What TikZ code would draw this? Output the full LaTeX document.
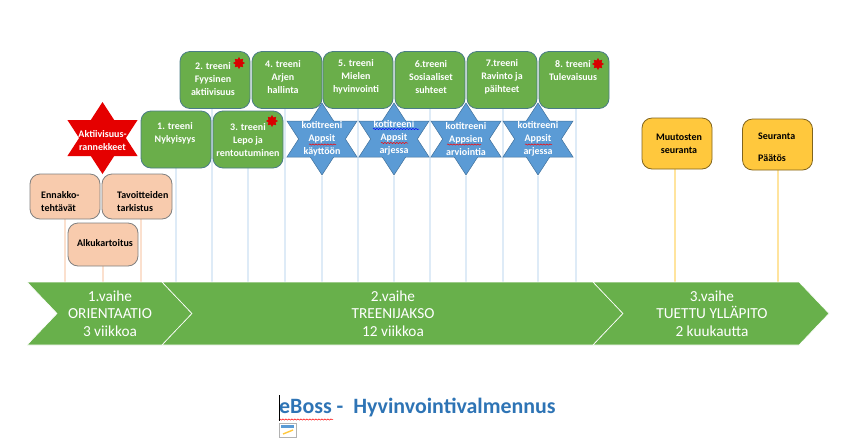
\documentclass[tikz,border=0pt]{standalone}
\usepackage{fontspec}
\setmainfont{Carlito}
\usetikzlibrary{shapes.geometric,backgrounds,decorations.pathmorphing}
\definecolor{phasegreen}{HTML}{68B04B}
\definecolor{boxgreen}{HTML}{6AAE4A}
\definecolor{boxedge}{HTML}{4A7C86}
\definecolor{starblue}{HTML}{5B9BD5}
\definecolor{staredge}{HTML}{41719C}
\definecolor{peach}{HTML}{F8CBAD}
\definecolor{amber}{HTML}{FFC83D}
\definecolor{titleblue}{HTML}{2E74B5}
\begin{document}
\begin{tikzpicture}[
    x=1pt, y=-1pt,
    card/.style={draw=#1, line width=0.8pt, rectangle, rounded corners=10pt, minimum width=70pt, minimum height=57pt, inner sep=0pt},
    treeni box/.style={card=boxedge, fill=boxgreen},
    alku box/.style={card=gray, fill=peach, minimum height=45pt},
    seuranta box/.style={card=black!50!amber, fill=amber, minimum height=51pt},
    hex star/.style={star, star points=6, star point ratio=1.732, minimum size=72pt, inner sep=0pt, transform shape, xscale=1.125, fill=#1},
    burst/.style={star, star points=8, star point ratio=1.6, minimum size=12pt, inner sep=0pt, fill=red!85!black},
    light text/.style={text=white, font=\bfseries\fontsize{10}{13}\selectfont, align=center, inner sep=0pt},
    dark text/.style={text=black, font=\bfseries\fontsize{10}{13}\selectfont, align=left, inner sep=0pt},
    phase/.style={fill=phasegreen, draw=white, line width=0.6pt},
    phase text/.style={text=white, font=\fontsize{15.3}{17.5}\selectfont, align=center, inner sep=0pt},
    foot line/.style={draw=#1, line width=1.2pt},
    squiggle/.style={draw=#1, line width=0.5pt, decorate, decoration={snake, amplitude=0.6pt, segment length=3pt}}
]
\useasboundingbox (0,0) rectangle (856,437);
\coordinate (bar) at (0,282);

% Phases
\path[phase] (27,282) -- (162,282) -- (192,313.5) -- (162,345) -- (27,345) -- (57,313.5) -- cycle;
\path[phase] (162,282) -- (593,282) -- (623,313.5) -- (593,345) -- (162,345) -- (192,313.5) -- cycle;
\path[phase] (593,282) -- (799,282) -- (829,313.5) -- (799,345) -- (593,345) -- (623,313.5) -- cycle;
\node [phase text] (vaihe1) at (110,313.5) {1.vaihe\\ORIENTAATIO\\3 viikkoa};
\node [phase text] (vaihe2) at (393,313.5) {2.vaihe\\TREENIJAKSO\\12 viikkoa};
\node [phase text] (vaihe3) at (712,313.5) {3.vaihe\\TUETTU YLLÄPITO\\2 kuukautta};

% Orientation
\node [alku box] (ennakko) at (65,196.5) {};
\node [alku box] (tavoite) at (137,196.5) {};
\node [alku box, minimum height=43pt] (alkukartoitus) at (103,244.5) {};
\node [hex star=red!90!black] (ranneke) at (102.5,138) {};
\node [dark text, anchor=west] (ennakkotxt) at (41,201.5) {Ennakko-\\tehtävät};
\node [dark text, anchor=west] (tavoitetxt) at (117,201.5) {Tavoitteiden\\tarkistus};
\node [dark text] (alkutxt) at (105,243.5) {Alkukartoitus};
\node [light text] (ranneketxt) at (102.5,141) {Aktiivisuus-\\rannekkeet};

% Sessions
\node [treeni box] (treeni2) at (215,80) {};
\node [treeni box] (treeni4) at (287,80) {};
\node [treeni box] (treeni5) at (358,80) {};
\node [treeni box] (treeni6) at (430,80) {};
\node [treeni box] (treeni7) at (502,80) {};
\node [treeni box] (treeni8) at (574,80) {};
\node [treeni box] (treeni1) at (176,139.5) {};
\node [treeni box] (treeni3) at (248,139.5) {};

\node [light text] (treeni2txt) at (213,79) {2. treeni\\Fyysinen\\aktiivisuus};
\node [light text] (treeni4txt) at (283,77) {4. treeni\\Arjen\\hallinta};
\node [light text] (treeni5txt) at (356,77) {5. treeni\\Mielen\\hyvinvointi};
\node [light text] (treeni6txt) at (431,77) {6.treeni\\Sosiaaliset\\suhteet};
\node [light text] (treeni7txt) at (502,77) {7.treeni\\Ravinto ja\\päihteet};
\node [light text] (treeni8txt) at (573,71) {8. treeni\\Tulevaisuus};
\node [light text] (treeni1txt) at (175,133.5) {1. treeni\\Nykyisyys};
\node [light text] (treeni3txt) at (248,140) {3. treeni\\Lepo ja\\rentoutuminen};

\node [burst] (burst2) at (239,63) {};
\node [burst] (burst3) at (272,121) {};
\node [burst] (burst8) at (598,64) {};

% Home training
\node [hex star=starblue, draw=staredge, line width=0.5pt] (koti1) at (322,139) {};
\node [hex star=starblue, draw=staredge, line width=0.5pt] (koti2) at (394,139) {};
\node [hex star=starblue, draw=staredge, line width=0.5pt] (koti3) at (466,139) {};
\node [hex star=starblue, draw=staredge, line width=0.5pt] (koti4) at (538,139) {};
\node [light text] (koti1txt) at (322,139) {kotitreeni\\Appsit\\käyttöön};
\node [light text] (koti2txt) at (394,137.5) {kotitreeni\\Appsit\\arjessa};
\node [light text] (koti3txt) at (466,139) {kotitreeni\\Appsien\\arviointia};
\node [light text] (koti4txt) at (538,139) {kotitreeni\\Appsit\\arjessa};
\draw [squiggle=red] (309,144.5) -- (336,144.5);
\draw [squiggle=blue] (373,129) -- (419,129);
\draw [squiggle=red] (381,143) -- (408,143);
\draw [squiggle=red] (447,144.5) -- (481,144.5);
\draw [squiggle=red] (525,144.5) -- (552,144.5);

% Follow-up
\node [seuranta box] (muutos) at (677,143.5) {};
\node [seuranta box] (paatos) at (777.5,144.5) {};
\node [dark text, align=center] (muutostxt) at (679,143.5) {Muutosten\\seuranta};
\node [dark text, anchor=west] (seurantatxt) at (758,136) {Seuranta};
\node [dark text, anchor=west] (paatostxt) at (758,158) {Päätös};

% Title
\node [text=titleblue, font=\bfseries\fontsize{21.9}{26}\selectfont, inner sep=0pt, anchor=west] (otsikko) at (279,408) {eBoss -\ \ Hyvinvointivalmennus};
\draw [squiggle=red] (279,419.5) -- (333,419.5);
\draw [black, line width=0.6pt] (279,395) -- (279,421);
\draw [gray!60, fill=white, line width=0.5pt] (279.5,423) rectangle (296,437);
\fill [starblue] (281,425) rectangle (294,428);
\draw [amber, line width=1.4pt] (283,434) -- (293,430);

% Feet
\begin{scope}[on background layer]
\draw [foot line=peach!60] (ennakko.south) -- (ennakko.south |- bar);
\draw [foot line=peach!60] (alkukartoitus.south) -- (alkukartoitus.south |- bar);
\draw [foot line=peach!60] ([xshift=4pt]tavoite.south) -- ([xshift=4pt]tavoite.south |- bar);
\draw [foot line=starblue!20] (treeni1.south) -- (treeni1.south |- bar);
\draw [foot line=starblue!20] ([xshift=-3pt]treeni2.south) -- ([xshift=-3pt]treeni2.south |- bar);
\draw [foot line=starblue!20] (treeni3.south) -- (treeni3.south |- bar);
\draw [foot line=starblue!20] ([xshift=-2pt]treeni4.south) -- ([xshift=-2pt]treeni4.south |- bar);
\draw [foot line=starblue!20] (koti1.south) -- (koti1.south |- bar);
\draw [foot line=starblue!20] (treeni5.south) -- (treeni5.south |- bar);
\draw [foot line=starblue!20] (koti2.south) -- (koti2.south |- bar);
\draw [foot line=starblue!20] (treeni6.south) -- (treeni6.south |- bar);
\draw [foot line=starblue!20] (koti3.south) -- (koti3.south |- bar);
\draw [foot line=starblue!20] ([xshift=1pt]treeni7.south) -- ([xshift=1pt]treeni7.south |- bar);
\draw [foot line=starblue!20] (koti4.south) -- (koti4.south |- bar);
\draw [foot line=starblue!20] ([xshift=2pt]treeni8.south) -- ([xshift=2pt]treeni8.south |- bar);
\draw [foot line=amber!50] ([xshift=-2pt]muutos.south) -- ([xshift=-2pt]muutos.south |- bar);
\draw [foot line=amber!50] ([xshift=0.5pt]paatos.south) -- ([xshift=0.5pt]paatos.south |- bar);
\end{scope}
\end{tikzpicture}
\end{document}
